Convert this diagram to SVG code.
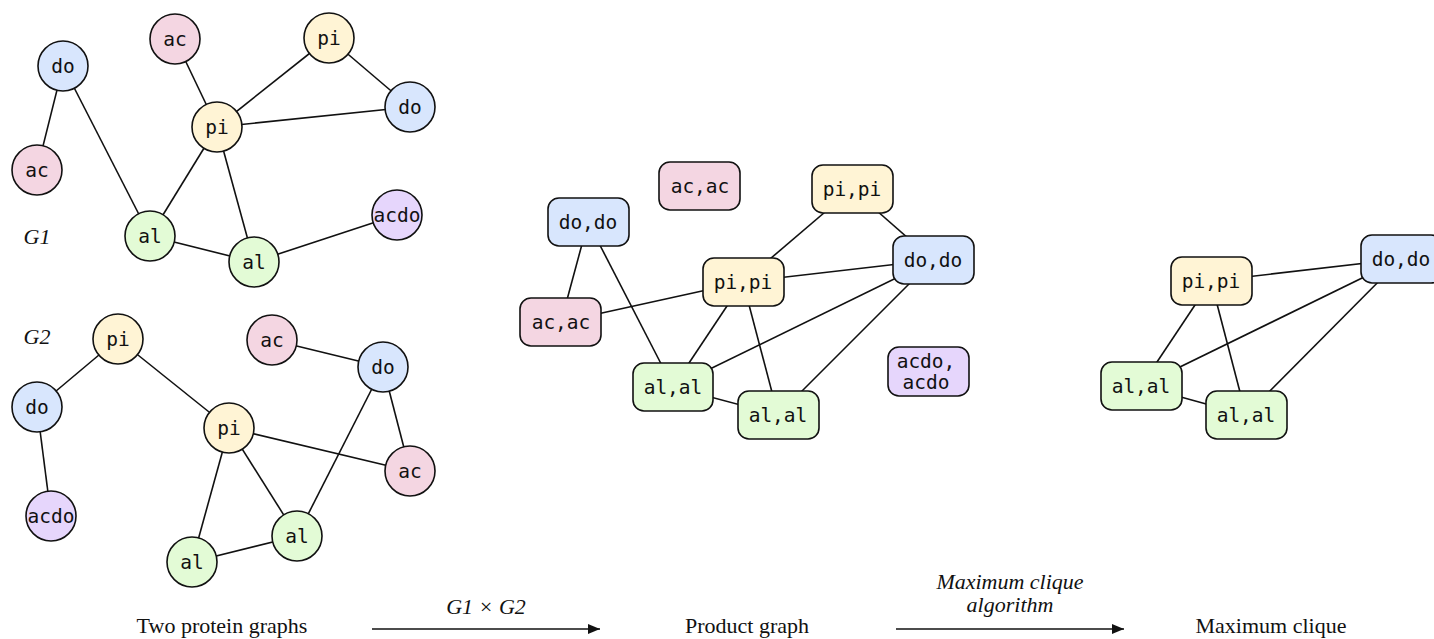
<svg xmlns="http://www.w3.org/2000/svg" width="1434" height="639" viewBox="0 0 1434 639">
<style>
.e{stroke:#111;stroke-width:1.6;fill:none}
.n{stroke:#111;stroke-width:1.6}
.ac{fill:#f4d6e2}.do{fill:#d8e6fd}.pi{fill:#fff4d5}.al{fill:#e3fbd6}.acdo{fill:#e6d6fc}
.t{font-family:"DejaVu Sans Mono",monospace;font-size:19.5px;fill:#111;text-anchor:middle;dominant-baseline:central}
.lab{font-family:"Liberation Serif",serif;font-size:22px;fill:#111;text-anchor:middle}
.it{font-style:italic}
</style>
<defs>
<marker id="ah" viewBox="0 0 12 10" refX="12" refY="5" markerWidth="12" markerHeight="10" markerUnits="userSpaceOnUse" orient="auto">
<path d="M0,0 L12,5 L0,10 z" fill="#111"/>
</marker>
</defs>
<g id="connectors">
<!-- G1 -->
<line class="e" x1="63" y1="66" x2="37" y2="170"/>
<line class="e" x1="63" y1="66" x2="150" y2="236"/>
<line class="e" x1="175" y1="39" x2="217" y2="127"/>
<line class="e" x1="329" y1="38" x2="217" y2="127"/>
<line class="e" x1="329" y1="38" x2="410" y2="107"/>
<line class="e" x1="217" y1="127" x2="410" y2="107"/>
<line class="e" x1="217" y1="127" x2="150" y2="236"/>
<line class="e" x1="217" y1="127" x2="254" y2="262"/>
<line class="e" x1="150" y1="236" x2="254" y2="262"/>
<line class="e" x1="254" y1="262" x2="397" y2="215"/>
<!-- G2 -->
<line class="e" x1="118" y1="339" x2="37" y2="407"/>
<line class="e" x1="37" y1="407" x2="51" y2="516"/>
<line class="e" x1="118" y1="339" x2="229" y2="428"/>
<line class="e" x1="272" y1="340" x2="383" y2="367"/>
<line class="e" x1="383" y1="367" x2="410" y2="471"/>
<line class="e" x1="383" y1="367" x2="297" y2="536"/>
<line class="e" x1="229" y1="428" x2="410" y2="471"/>
<line class="e" x1="229" y1="428" x2="192" y2="562"/>
<line class="e" x1="229" y1="428" x2="297" y2="536"/>
<line class="e" x1="192" y1="562" x2="297" y2="536"/>
<!-- Product -->
<line class="e" x1="588" y1="222" x2="561" y2="322"/>
<line class="e" x1="588" y1="222" x2="673" y2="387"/>
<line class="e" x1="561" y1="322" x2="743" y2="282"/>
<line class="e" x1="852" y1="189" x2="743" y2="282"/>
<line class="e" x1="852" y1="189" x2="933" y2="260"/>
<line class="e" x1="743" y1="282" x2="933" y2="260"/>
<line class="e" x1="743" y1="282" x2="673" y2="387"/>
<line class="e" x1="743" y1="282" x2="778" y2="415"/>
<line class="e" x1="673" y1="387" x2="933" y2="260"/>
<line class="e" x1="933" y1="260" x2="778" y2="415"/>
<line class="e" x1="673" y1="387" x2="778" y2="415"/>
<!-- Clique -->
<line class="e" x1="1211" y1="281" x2="1401" y2="259"/>
<line class="e" x1="1211" y1="281" x2="1141" y2="386"/>
<line class="e" x1="1211" y1="281" x2="1246" y2="415"/>
<line class="e" x1="1141" y1="386" x2="1401" y2="259"/>
<line class="e" x1="1401" y1="259" x2="1246" y2="415"/>
<line class="e" x1="1141" y1="386" x2="1246" y2="415"/>
<!-- process arrows -->
<line class="e" x1="372" y1="629" x2="600" y2="629" marker-end="url(#ah)"/>
<line class="e" x1="896" y1="629" x2="1124" y2="629" marker-end="url(#ah)"/>
</g>
<!-- G1 nodes -->
<g id="g1-do"><circle class="n do" cx="63" cy="66" r="25"/><text class="t" x="63" y="66">do</text></g>
<g id="g1-ac1"><circle class="n ac" cx="37" cy="170" r="25"/><text class="t" x="37" y="170">ac</text></g>
<g id="g1-ac2"><circle class="n ac" cx="175" cy="39" r="25"/><text class="t" x="175" y="39">ac</text></g>
<g id="g1-pi1"><circle class="n pi" cx="329" cy="38" r="25"/><text class="t" x="329" y="38">pi</text></g>
<g id="g1-pi2"><circle class="n pi" cx="217" cy="127" r="25"/><text class="t" x="217" y="127">pi</text></g>
<g id="g1-do2"><circle class="n do" cx="410" cy="107" r="25"/><text class="t" x="410" y="107">do</text></g>
<g id="g1-al1"><circle class="n al" cx="150" cy="236" r="25"/><text class="t" x="150" y="236">al</text></g>
<g id="g1-al2"><circle class="n al" cx="254" cy="262" r="25"/><text class="t" x="254" y="262">al</text></g>
<g id="g1-acdo"><circle class="n acdo" cx="397" cy="215" r="25"/><text class="t" x="397" y="215">acdo</text></g>
<g id="g1-label"><text class="lab it" x="37" y="244">G1</text></g>
<!-- G2 nodes -->
<g id="g2-label"><text class="lab it" x="37" y="344">G2</text></g>
<g id="g2-pi1"><circle class="n pi" cx="118" cy="339" r="25"/><text class="t" x="118" y="339">pi</text></g>
<g id="g2-do1"><circle class="n do" cx="37" cy="407" r="25"/><text class="t" x="37" y="407">do</text></g>
<g id="g2-acdo"><circle class="n acdo" cx="51" cy="516" r="25"/><text class="t" x="51" y="516">acdo</text></g>
<g id="g2-ac1"><circle class="n ac" cx="272" cy="340" r="25"/><text class="t" x="272" y="340">ac</text></g>
<g id="g2-do2"><circle class="n do" cx="383" cy="367" r="25"/><text class="t" x="383" y="367">do</text></g>
<g id="g2-pi2"><circle class="n pi" cx="229" cy="428" r="25"/><text class="t" x="229" y="428">pi</text></g>
<g id="g2-ac2"><circle class="n ac" cx="410" cy="471" r="25"/><text class="t" x="410" y="471">ac</text></g>
<g id="g2-al1"><circle class="n al" cx="297" cy="536" r="25"/><text class="t" x="297" y="536">al</text></g>
<g id="g2-al2"><circle class="n al" cx="192" cy="562" r="25"/><text class="t" x="192" y="562">al</text></g>
<!-- Product graph nodes -->
<g id="p-acac1"><rect class="n ac" x="659" y="162" width="81" height="48" rx="11"/><text class="t" x="700" y="186">ac,ac</text></g>
<g id="p-dodo1"><rect class="n do" x="548" y="198" width="81" height="48" rx="11"/><text class="t" x="588" y="222">do,do</text></g>
<g id="p-pipi1"><rect class="n pi" x="812" y="165" width="81" height="48" rx="11"/><text class="t" x="852" y="189">pi,pi</text></g>
<g id="p-dodo2"><rect class="n do" x="893" y="236" width="81" height="48" rx="11"/><text class="t" x="933" y="260">do,do</text></g>
<g id="p-pipi2"><rect class="n pi" x="703" y="258" width="81" height="48" rx="11"/><text class="t" x="743" y="282">pi,pi</text></g>
<g id="p-acac2"><rect class="n ac" x="520" y="298" width="81" height="48" rx="11"/><text class="t" x="561" y="322">ac,ac</text></g>
<g id="p-alal1"><rect class="n al" x="633" y="363" width="80" height="48" rx="11"/><text class="t" x="673" y="387">al,al</text></g>
<g id="p-alal2"><rect class="n al" x="738" y="391" width="81" height="48" rx="11"/><text class="t" x="778" y="415">al,al</text></g>
<g id="p-acdo"><rect class="n acdo" x="888" y="347" width="81" height="49" rx="11"/><text class="t" x="926" y="361">acdo,</text><text class="t" x="926" y="382">acdo</text></g>
<!-- Clique nodes -->
<g id="c-pipi"><rect class="n pi" x="1171" y="257" width="81" height="48" rx="11"/><text class="t" x="1211" y="281">pi,pi</text></g>
<g id="c-dodo"><rect class="n do" x="1361" y="235" width="81" height="48" rx="11"/><text class="t" x="1401" y="259">do,do</text></g>
<g id="c-alal1"><rect class="n al" x="1101" y="362" width="81" height="48" rx="11"/><text class="t" x="1141" y="386">al,al</text></g>
<g id="c-alal2"><rect class="n al" x="1206" y="391" width="81" height="48" rx="11"/><text class="t" x="1246" y="415">al,al</text></g>
<!-- Labels -->
<g id="labels">
<text class="lab" x="222" y="633">Two protein graphs</text>
<text class="lab it" x="486" y="614">G1 × G2</text>
<text class="lab" x="747" y="633">Product graph</text>
<text class="lab it" x="1010" y="589">Maximum clique</text>
<text class="lab it" x="1010" y="612">algorithm</text>
<text class="lab" x="1271" y="633">Maximum clique</text>
</g>
</svg>
